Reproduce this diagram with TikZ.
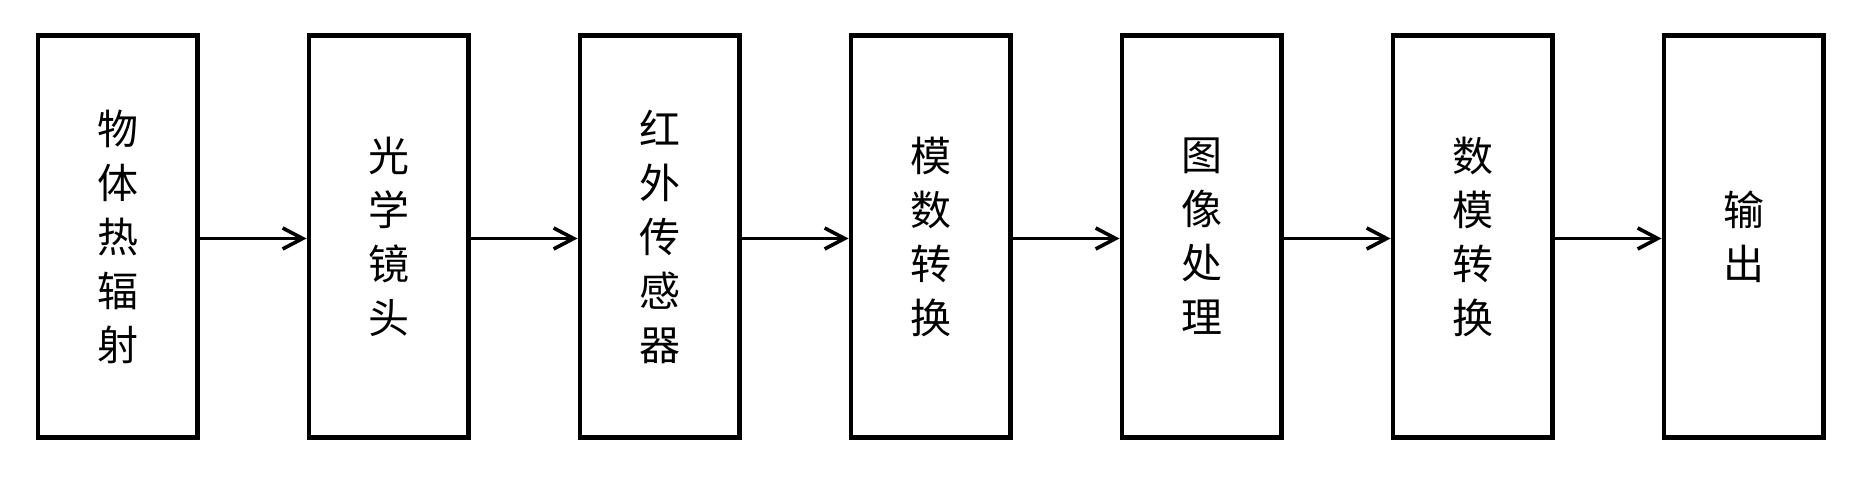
\documentclass[tikz,border=0pt]{standalone}
\usepackage{fontspec}
\newfontfamily\cjk{Noto Sans CJK SC}
\usetikzlibrary{arrows.meta}
\tikzset{
  blk/.style={draw=black, line width=2.4pt, minimum width=79.6pt, minimum height=201.1pt,
    inner sep=0pt, align=center, font=\cjk\fontsize{20.5pt}{27pt}\selectfont},
  arr/.style={line width=1.7pt, -{Straight Barb[length=10pt,width=10.5pt,line width=1.8pt]}}
}
\begin{document}
\begin{tikzpicture}[x=0.5pt,y=-0.5pt]
\useasboundingbox (0,0) rectangle (1861,480);
\fill[white] (0,0) rectangle (1861,480);
\node[blk] (b1) at (117.5,236.5) {物\\体\\热\\辐\\射};
\node[blk] (b2) at (388.5,236.5) {光\\学\\镜\\头};
\node[blk] (b3) at (659.5,236.5) {红\\外\\传\\感\\器};
\node[blk] (b4) at (930.5,236.5) {模\\数\\转\\换};
\node[blk] (b5) at (1201.5,236.5) {图\\像\\处\\理};
\node[blk] (b6) at (1472.5,236.5) {数\\模\\转\\换};
\node[blk] (b7) at (1743.5,236.5) {输\\出};
\foreach \a/\b in {b1/b2,b2/b3,b3/b4,b4/b5,b5/b6,b6/b7}
  \draw[arr] ([yshift=-1pt]\a.east) -- ([yshift=-1pt]\b.west);
\end{tikzpicture}
\end{document}
